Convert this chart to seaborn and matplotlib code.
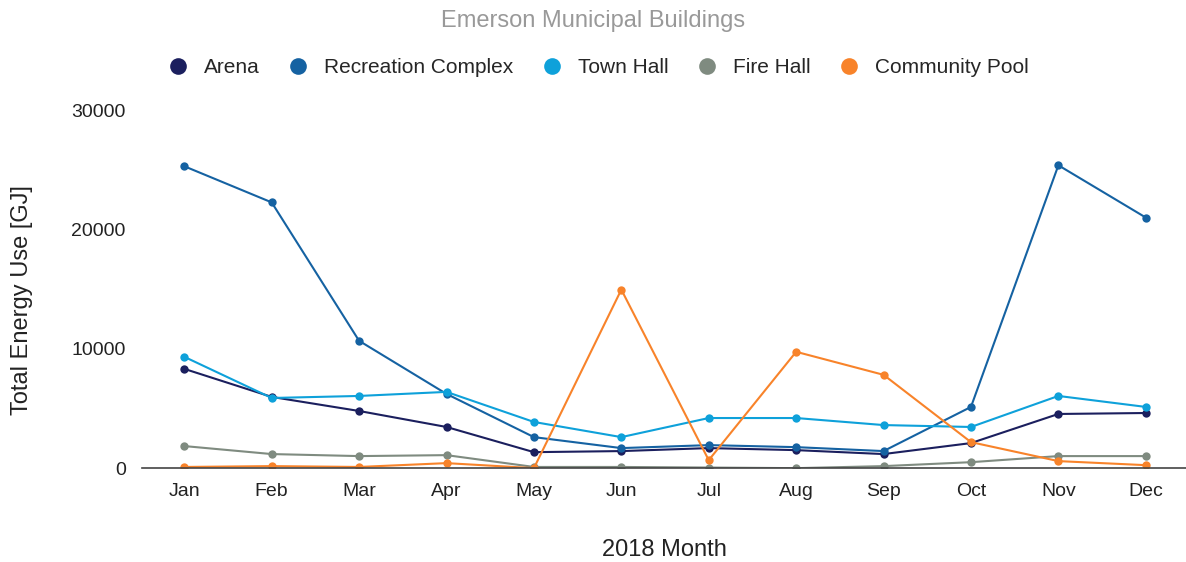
import pandas as pd
import matplotlib.pyplot as plt
import seaborn as sns
from matplotlib.lines import Line2D

months = ["Jan", "Feb", "Mar", "Apr", "May", "Jun", "Jul", "Aug", "Sep", "Oct", "Nov", "Dec"]

arena = [8320, 5970, 4790, 3450, 1340, 1430, 1680, 1510, 1180, 2100, 4540, 4620]
recreation = [25300, 22270, 10670, 6220, 2600, 1680, 1930, 1760, 1430, 5130, 25380, 21000]
town_hall = [9330, 5880, 6050, 6390, 3870, 2600, 4200, 4200, 3610, 3450, 6050, 5130]
fire_hall = [1850, 1180, 1010, 1090, 100, 100, 50, 0, 170, 500, 1010, 1010]
pool = [100, 170, 100, 420, 0, 14960, 670, 9750, 7820, 2180, 590, 250]

buildings = ["Arena", "Recreation Complex", "Town Hall", "Fire Hall", "Community Pool"]
colors = ["#1b1f5e", "#1562a2", "#0ea1da", "#7f8b80", "#f8832a"]

series = [arena, recreation, town_hall, fire_hall, pool]
rows = []
for name, vals in zip(buildings, series):
    for i, v in enumerate(vals):
        rows.append({"month": i, "building": name, "energy": v})
df = pd.DataFrame(rows)

sns.set_style("white")
plt.rcParams["font.family"] = ["Liberation Sans", "DejaVu Sans"]

fig = plt.figure(figsize=(11.86, 5.62), dpi=100)
ax = fig.add_axes([0.12, 0.167, 0.88, 0.637])

sns.lineplot(
    data=df, x="month", y="energy", hue="building",
    hue_order=buildings, palette=colors,
    marker="o", markersize=6, markeredgewidth=0,
    linewidth=1.5, legend=False, ax=ax
)

ax.set_xlim(-0.48, 11.46)
ax.set_ylim(0, 30000)
ax.set_xticks(range(12))
ax.set_xticklabels(months)
ax.set_yticks([0, 10000, 20000, 30000])
ax.tick_params(axis="both", length=0, labelsize=14, colors="#222222")
ax.tick_params(axis="y", pad=12)
ax.tick_params(axis="x", pad=11)

for s in ["top", "right", "left"]:
    ax.spines[s].set_visible(False)
ax.spines["bottom"].set_color("#444444")
ax.spines["bottom"].set_linewidth(1.2)

ax.set_xlabel("2018 Month", fontsize=17, color="#222222", labelpad=28)
ax.set_ylabel("Total Energy Use [GJ]", fontsize=17, color="#222222")
ax.yaxis.set_label_coords(-0.105, 0.47)

fig.text(0.5, 0.962, "Emerson Municipal Buildings", ha="center", va="center",
         fontsize=17, color="#999999")

handles = [Line2D([], [], marker="o", linestyle="", markersize=12,
                  markerfacecolor=c, markeredgewidth=0) for c in colors]
fig.legend(handles, buildings, loc="center", bbox_to_anchor=(0.5, 0.88),
           ncol=5, frameon=False, fontsize=15, handletextpad=0.25,
           columnspacing=0.85)

fig.savefig("out.png", dpi=100)
